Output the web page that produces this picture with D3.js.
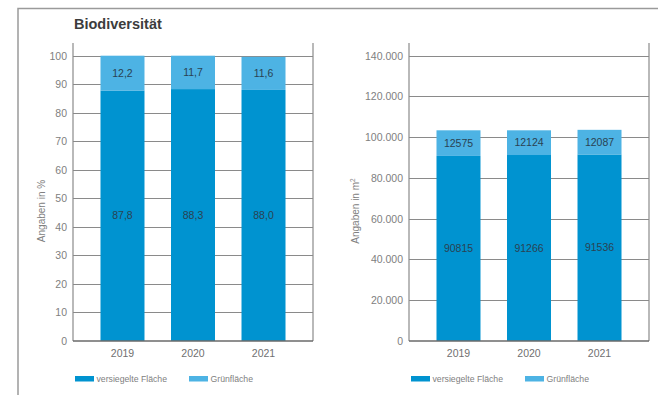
<!DOCTYPE html>
<html>
<head>
<meta charset="utf-8">
<script src="https://cdn.jsdelivr.net/npm/d3@7"></script>
<style>
  body { margin: 0; background: #fff; }
  svg { display: block; font-family: "Liberation Sans", Arial, sans-serif; }
</style>
</head>
<body>
<div id="chart"></div>
<script>
// Chart data
const years = ["2019", "2020", "2021"];
const sealedPct = [87.8, 88.3, 88.0];
const greenPct = [12.2, 11.7, 11.6];
const sealedArea = [90815, 91266, 91536];
const greenArea = [12575, 12124, 12087];
const pctTicks = [0, 10, 20, 30, 40, 50, 60, 70, 80, 90, 100];
const areaTicks = [0, 20000, 40000, 60000, 80000, 100000, 120000, 140000];
const seriesNames = ["versiegelte Fläche", "Grünfläche"];

const colors = { sealed: "#0093d0", green: "#4db3e4" };

const de = d3.formatLocale({ decimal: ",", thousands: ".", grouping: [3], currency: ["", " €"] });

const svg = d3.select("#chart").append("svg")
    .attr("width", 658)
    .attr("height", 395);

// outer frame (top and left edge)
svg.append("path")
    .attr("d", "M18,395 V8.5 H658")
    .attr("fill", "none")
    .attr("stroke", "#9a9a9a")
    .attr("stroke-width", 1.5);

svg.append("text")
    .attr("x", 74)
    .attr("y", 29)
    .attr("fill", "#3c3c3c")
    .style("font-size", "14.5px")
    .style("font-weight", "bold")
    .text("Biodiversität");

function drawPanel(opts) {
    const { x0, x1, yTop, yBottom, max, ticks, tickFmt, sealed, green, labelFmt, yLabel, yLabelX, legendX } = opts;

    const g = svg.append("g");

    const x = d3.scaleBand()
        .domain(years)
        .range([x0, x1])
        .paddingInner(0.376)
        .paddingOuter(0.39);

    const y = d3.scaleLinear()
        .domain([0, max])
        .range([yBottom, yTop]);

    // gridlines
    g.selectAll(".grid")
        .data(ticks.filter(t => t > 0))
        .enter()
        .append("line")
        .attr("x1", x0)
        .attr("x2", x1)
        .attr("y1", d => Math.round(y(d)) + 0.5)
        .attr("y2", d => Math.round(y(d)) + 0.5)
        .attr("stroke", "#8a8a8a")
        .attr("stroke-width", 1);

    // left axis with labels
    const yAxis = g.append("g")
        .attr("transform", `translate(${x0},0)`)
        .call(d3.axisLeft(y).tickValues(ticks).tickFormat(tickFmt).tickSize(0).tickPadding(6));
    yAxis.select(".domain").remove();
    yAxis.selectAll("text")
        .attr("fill", "#808080")
        .style("font-size", "10.5px");

    // vertical frame lines
    [x0, x1].forEach(xx => {
        g.append("line")
            .attr("x1", xx)
            .attr("x2", xx)
            .attr("y1", 43)
            .attr("y2", yBottom)
            .attr("stroke", "#8a8a8a")
            .attr("stroke-width", 1.2);
    });

    // stacked bars
    const rows = years.map((yr, i) => ({ year: yr, sealed: sealed[i], green: green[i] }));

    g.selectAll(".sealed")
        .data(rows)
        .enter()
        .append("rect")
        .attr("x", d => x(d.year))
        .attr("width", x.bandwidth())
        .attr("y", d => y(d.sealed))
        .attr("height", d => yBottom - y(d.sealed))
        .attr("fill", colors.sealed);

    g.selectAll(".green")
        .data(rows)
        .enter()
        .append("rect")
        .attr("x", d => x(d.year))
        .attr("width", x.bandwidth())
        .attr("y", d => y(d.sealed + d.green))
        .attr("height", d => y(d.sealed) - y(d.sealed + d.green))
        .attr("fill", colors.green);

    // value labels
    const lbl = (sel, val, mid) => sel.enter()
        .append("text")
        .attr("x", d => x(d.year) + x.bandwidth() / 2)
        .attr("y", mid)
        .attr("dy", "0.35em")
        .attr("text-anchor", "middle")
        .attr("fill", "#2a4252")
        .style("font-size", "10.5px")
        .text(val);

    lbl(g.selectAll(".ls").data(rows), d => labelFmt(d.sealed), d => (y(0) + y(d.sealed)) / 2);
    lbl(g.selectAll(".lg").data(rows), d => labelFmt(d.green), d => (y(d.sealed) + y(d.sealed + d.green)) / 2);

    // baseline
    g.append("line")
        .attr("x1", x0)
        .attr("x2", x1)
        .attr("y1", yBottom)
        .attr("y2", yBottom)
        .attr("stroke", "#6a6a6a")
        .attr("stroke-width", 1.6);

    // x axis labels
    const xAxis = g.append("g")
        .attr("transform", `translate(0,${yBottom})`)
        .call(d3.axisBottom(x).tickSize(0).tickPadding(9));
    xAxis.select(".domain").remove();
    xAxis.selectAll("text")
        .attr("fill", "#707070")
        .style("font-size", "10.5px");

    // y axis title
    g.append("text")
        .attr("transform", `translate(${yLabelX},211) rotate(-90)`)
        .attr("text-anchor", "middle")
        .attr("fill", "#808080")
        .style("font-size", "10px")
        .html(yLabel);

    // legend
    const legend = g.selectAll(".legend")
        .data(seriesNames)
        .enter()
        .append("g")
        .attr("transform", (d, i) => `translate(${legendX + i * 114},0)`);
    legend.append("rect")
        .attr("x", 0)
        .attr("y", 376)
        .attr("width", 19)
        .attr("height", 5.5)
        .attr("fill", (d, i) => i === 0 ? colors.sealed : colors.green);
    legend.append("text")
        .attr("x", 21.5)
        .attr("y", 382)
        .attr("fill", "#808080")
        .style("font-size", "8.7px")
        .text(d => d);
}

drawPanel({
    x0: 73, x1: 313, yTop: 55.7, yBottom: 341,
    max: 100, ticks: pctTicks, tickFmt: d3.format("d"),
    sealed: sealedPct, green: greenPct,
    labelFmt: de.format(".1f"),
    yLabel: "Angaben in %",
    yLabelX: 45,
    legendX: 75
});

drawPanel({
    x0: 409, x1: 649, yTop: 55.7, yBottom: 341,
    max: 140000, ticks: areaTicks, tickFmt: de.format(",d"),
    sealed: sealedArea, green: greenArea,
    labelFmt: d3.format("d"),
    yLabel: "Angaben in m<tspan dy='-4' font-size='6.5px'>2</tspan>",
    yLabelX: 359,
    legendX: 411
});
</script>
</body>
</html>
